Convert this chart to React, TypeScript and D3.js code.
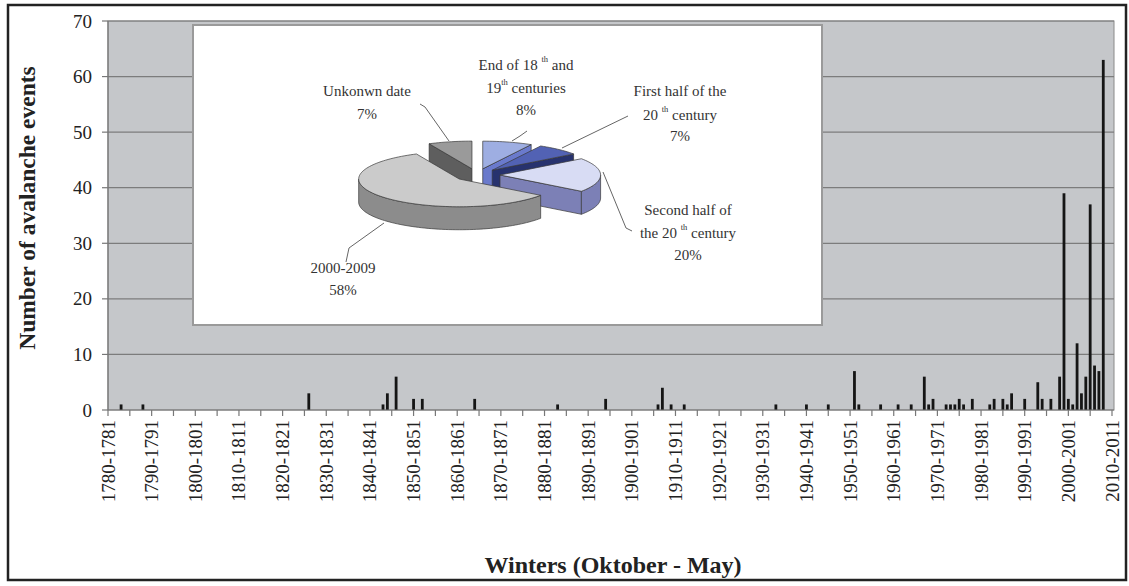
import React from 'react';
import * as d3 from 'd3';

// ---------- DATA ----------
const firstWinter = 1780;
const lastWinter = 2010;
const winters: number[] = d3.range(firstWinter, lastWinter + 1);

// start year of winter with recorded avalanche events
const eventWinters = [1783, 1788, 1826, 1843, 1844, 1846, 1850, 1852, 1864, 1883, 1894, 1906, 1907, 1909, 1912, 1933, 1940, 1945, 1951, 1952, 1957, 1961, 1964, 1967, 1968, 1969, 1972, 1973, 1974, 1975, 1976, 1978, 1982, 1983, 1985, 1986, 1987, 1990, 1993, 1994, 1996, 1998, 1999, 2000, 2001, 2002, 2003, 2004, 2005, 2006, 2007, 2008];
const eventCounts = [1, 1, 3, 1, 3, 6, 2, 2, 2, 1, 2, 1, 4, 1, 1, 1, 1, 1, 7, 1, 1, 1, 1, 6, 1, 2, 1, 1, 1, 2, 1, 2, 1, 2, 2, 1, 3, 2, 5, 2, 2, 6, 39, 2, 1, 12, 3, 6, 37, 8, 7, 63];

const yTicks = [0, 10, 20, 30, 40, 50, 60, 70];

const pieNames = ['End of 18th and 19th centuries', 'First half of the 20th century', 'Second half of the 20th century', '2000-2009', 'Unkonwn date'];
const pieShares = [8, 7, 20, 58, 7];
const pieTop = ['#9eaee2', '#5262b4', '#d8dcf4', '#cbcbcb', '#9a9a9a'];
const pieSide = ['#6a7acc', '#27326e', '#7c80b6', '#8c8c8c', '#5e5e5e'];

type Seg = { t: string; sup?: boolean };
const pieLabelLines: Seg[][][] = [
  [[{ t: 'End of 18 ' }, { t: 'th', sup: true }, { t: ' and' }], [{ t: '19' }, { t: 'th', sup: true }, { t: ' centuries' }], [{ t: '8%' }]],
  [[{ t: 'First half of the' }], [{ t: '20 ' }, { t: 'th', sup: true }, { t: ' century' }], [{ t: '7%' }]],
  [[{ t: 'Second half of' }], [{ t: 'the 20 ' }, { t: 'th', sup: true }, { t: ' century' }], [{ t: '20%' }]],
  [[{ t: '2000-2009' }], [{ t: '58%' }]],
  [[{ t: 'Unkonwn date' }], [{ t: '7%' }]],
];

// ---------- LAYOUT ----------
const W = 1129, H = 586;
const PL = 108, PR = 1114, PT = 21, PB = 410;
const serif = '"Liberation Serif", "Times New Roman", serif';

const x = d3.scalePoint<number>().domain(winters).range([PL, 1112]);
const y = d3.scaleLinear().domain([0, 70]).range([PB, PT]);

// pie geometry
const pc = { cx: 477, cy: 175, rx: 100.6, ry: 27.7, depth: 23, explode: 23 };
const tilt = pc.ry / pc.rx;
const rad = (d: number) => (d * Math.PI) / 180;

const labelPos = [
  { x: 526, ys: [67, 90, 112] },
  { x: 680, ys: [93, 117, 138] },
  { x: 688, ys: [212, 235, 257] },
  { x: 343, ys: [270, 292] },
  { x: 367, ys: [93, 116] },
];
const leaders: [number, number][][] = [
  [[527, 131], [520, 136], [512, 141]],
  [[628, 116], [562, 148]],
  [[632, 231], [626, 228], [603, 172]],
  [[346, 262], [349, 248], [384, 223]],
  [[420, 104], [425, 107], [449, 141]],
];

function Pie() {
  const total = d3.sum(pieShares);
  let acc = 0;
  const slices = pieShares.map((v, i) => {
    const a0 = (acc / total) * 360;
    acc += v;
    const a1 = (acc / total) * 360;
    const mid = (a0 + a1) / 2;
    const dx = pc.explode * Math.sin(rad(mid));
    const dy = -pc.explode * Math.cos(rad(mid)) * tilt;
    return { i, a0, a1, mid, dx, dy };
  });
  const P = (s: any, a: number, z: number): [number, number] => [
    pc.cx + s.dx + pc.rx * Math.sin(rad(a)),
    pc.cy + s.dy - pc.ry * Math.cos(rad(a)) + z,
  ];
  const C = (s: any, z: number): [number, number] => [pc.cx + s.dx, pc.cy + s.dy + z];
  const arcPts = (s: any, from: number, to: number, z: number) => {
    const pts: [number, number][] = [];
    const n = Math.max(2, Math.ceil(Math.abs(to - from) / 2));
    for (let k = 0; k <= n; k++) pts.push(P(s, from + ((to - from) * k) / n, z));
    return pts;
  };
  const poly = (pts: [number, number][]) => 'M' + pts.map((p) => p[0].toFixed(2) + ',' + p[1].toFixed(2)).join('L') + 'Z';

  const order = [...slices].sort((a, b) => Math.cos(rad(b.mid)) - Math.cos(rad(a.mid)));
  const stroke = '#3a3a3a';
  const sw = 0.7;
  return (
    <g>
      {order.map((s) => {
        const parts: JSX.Element[] = [];
        if (Math.cos(rad(s.a0 - 90)) < -0.01) {
          parts.push(<path key="f0" d={poly([C(s, 0), P(s, s.a0, 0), P(s, s.a0, pc.depth), C(s, pc.depth)])} fill={pieSide[s.i]} stroke={stroke} strokeWidth={sw} />);
        }
        if (Math.cos(rad(s.a1 + 90)) < -0.01) {
          parts.push(<path key="f1" d={poly([C(s, 0), P(s, s.a1, 0), P(s, s.a1, pc.depth), C(s, pc.depth)])} fill={pieSide[s.i]} stroke={stroke} strokeWidth={sw} />);
        }
        const ws = Math.max(s.a0, 90), we = Math.min(s.a1, 270);
        if (we > ws) {
          const top = arcPts(s, ws, we, 0);
          const bot = arcPts(s, we, ws, pc.depth);
          parts.push(<path key="w" d={poly([...top, ...bot])} fill={pieSide[s.i]} stroke={stroke} strokeWidth={sw} />);
        }
        parts.push(<path key="t" d={poly([C(s, 0), ...arcPts(s, s.a0, s.a1, 0)])} fill={pieTop[s.i]} stroke={stroke} strokeWidth={sw} />);
        return <g key={s.i}>{parts}</g>;
      })}
      {leaders.map((l, i) => (
        <path key={'l' + i} d={d3.line()(l) || ''} fill="none" stroke="#666" strokeWidth={1} />
      ))}
      {pieLabelLines.map((lines, i) => (
        <g key={'pl' + i}>
          {lines.map((segs, j) => (
            <text key={j} x={labelPos[i].x} y={labelPos[i].ys[j]} textAnchor="middle" dominantBaseline="middle" fontFamily={serif} fontSize={15} fill="#333">
              {segs.map((sg, k) => {
                const prevSup = k > 0 && segs[k - 1].sup;
                return (
                  <tspan key={k} fontSize={sg.sup ? 8.5 : 15} dy={sg.sup ? -7 : prevSup ? 7 : 0}>
                    {sg.t}
                  </tspan>
                );
              })}
            </text>
          ))}
        </g>
      ))}
    </g>
  );
}

export default function App() {
  const bw = 2.8;
  const xTickWinters = winters.filter((w) => (w - firstWinter) % 5 === 0);
  const xLabelWinters = winters.filter((w) => (w - firstWinter) % 10 === 0);
  return (
    <svg width={W} height={H} style={{ position: 'absolute', left: 0, top: 0, background: '#fff' }}>
      <rect x={0} y={0} width={W} height={H} fill="#fff" />
      <rect x={PL} y={PT} width={PR - PL} height={PB - PT} fill="#c5c7ca" stroke="#8a8a8a" strokeWidth={1} />
      {yTicks.slice(1).map((t) => (
        <line key={'g' + t} x1={PL} x2={PR} y1={y(t)} y2={y(t)} stroke="#7c7c7c" strokeWidth={1.2} />
      ))}
      {eventWinters.map((w, i) => (
        <rect key={'b' + w} x={(x(w) as number) - bw / 2} y={y(eventCounts[i])} width={bw} height={y(0) - y(eventCounts[i])} fill="#151515" />
      ))}
      <line x1={PL} x2={PL} y1={PT} y2={PB} stroke="#777" strokeWidth={1.2} />
      <line x1={PL} x2={PR} y1={PB} y2={PB} stroke="#777" strokeWidth={1.2} />
      {yTicks.map((t) => (
        <g key={'yt' + t}>
          <line x1={PL - 6} x2={PL} y1={y(t)} y2={y(t)} stroke="#777" strokeWidth={1.2} />
          <text x={92} y={y(t)} textAnchor="end" dominantBaseline="central" fontFamily={serif} fontSize={19} fill="#222">
            {t}
          </text>
        </g>
      ))}
      {xTickWinters.map((w) => (
        <line key={'xt' + w} x1={x(w) as number} x2={x(w) as number} y1={PB} y2={PB + 6} stroke="#777" strokeWidth={1.2} />
      ))}
      {xLabelWinters.map((w) => (
        <text key={'xl' + w} transform={`translate(${x(w)},${PB + 10}) rotate(-90)`} textAnchor="end" dominantBaseline="central" fontFamily={serif} fontSize={19} fill="#222">
          {`${w}-${w + 1}`}
        </text>
      ))}
      <text transform={`translate(27,208) rotate(-90)`} textAnchor="middle" dominantBaseline="central" fontFamily={serif} fontWeight="bold" fontSize={23.5} fill="#222">
        Number of avalanche events
      </text>
      <text x={613} y={565} textAnchor="middle" dominantBaseline="central" fontFamily={serif} fontWeight="bold" fontSize={24} fill="#222">
        Winters (Oktober - May)
      </text>
      <rect x={193} y={25} width={629} height={300} fill="#fff" stroke="#9a9a9a" strokeWidth={2} />
      <Pie />
      <rect x={8} y={5} width={1118} height={575} fill="none" stroke="#222" strokeWidth={2.5} />
    </svg>
  );
}
